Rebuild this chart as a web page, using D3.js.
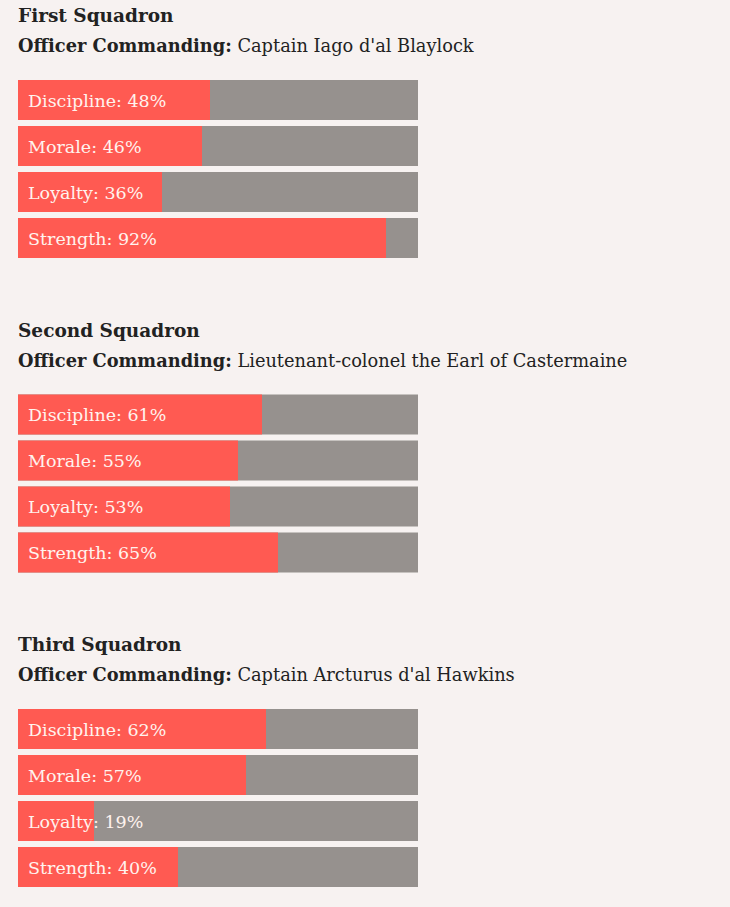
<!DOCTYPE html>
<html><head><meta charset="utf-8">
<script src="https://cdn.jsdelivr.net/npm/d3@7"></script>
<style>
html,body{margin:0;padding:0;background:#f7f2f1;}
svg{display:block;}
</style></head>
<body><svg id="chart" width="730" height="907"></svg>
<script>
const squadrons = ["First Squadron", "Second Squadron", "Third Squadron"];
const officers = ["Captain Iago d'al Blaylock", "Lieutenant-colonel the Earl of Castermaine", "Captain Arcturus d'al Hawkins"];
const metrics = ["Discipline", "Morale", "Loyalty", "Strength"];
const first = [48, 46, 36, 92];
const second = [61, 55, 53, 65];
const third = [62, 57, 19, 40];
const seriesValues = [first, second, third];

const svg = d3.select("#chart");
const font = "'DejaVu Serif', Georgia, serif";
svg.append("rect").attr("width", 730).attr("height", 907).attr("fill", "#f7f2f1");

const x = d3.scaleLinear().domain([0, 100]).range([0, 400]);
const groupY = d3.scaleLinear().domain([0, 1]).range([0, 314.5]);
const y = d3.scaleBand().domain(metrics).range([80, 258]).paddingInner(6/46).paddingOuter(0);

squadrons.forEach((name, i) => {
  const g = svg.append("g").attr("transform", `translate(18,${groupY(i)})`);
  g.append("text").attr("x", 0).attr("y", 22)
    .attr("font-family", font).attr("font-size", 18.5).attr("font-weight", "bold")
    .attr("fill", "#222").text(name);
  const t = g.append("text").attr("x", 0).attr("y", 52)
    .attr("font-family", font).attr("font-size", 17.8).attr("fill", "#222");
  t.append("tspan").attr("font-weight", "bold").text("Officer Commanding:");
  t.append("tspan").text(" " + officers[i]);

  const data = metrics.map((m, j) => ({m, v: seriesValues[i][j]}));
  const rows = g.selectAll("g.row").data(data).join("g").attr("class", "row");
  rows.append("rect").attr("x", 0).attr("y", d => y(d.m))
    .attr("width", x(100)).attr("height", y.bandwidth()).attr("fill", "#96918e");
  rows.append("rect").attr("x", 0).attr("y", d => y(d.m))
    .attr("width", d => x(d.v)).attr("height", y.bandwidth()).attr("fill", "#ff5a52");
  rows.append("text").attr("x", 10).attr("y", d => y(d.m) + y.bandwidth()/2 + 6.5)
    .attr("font-family", font).attr("font-size", 17.5).attr("fill", "#fff3ee")
    .text(d => `${d.m}: ${d.v}%`);
});
</script></body></html>
